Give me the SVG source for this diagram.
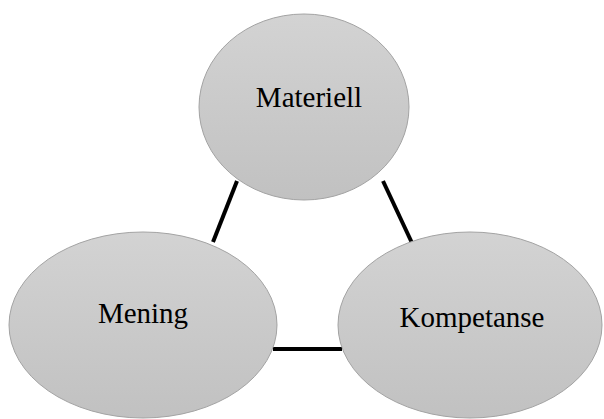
<svg xmlns="http://www.w3.org/2000/svg" width="604" height="419" viewBox="0 0 604 419">
<defs>
<linearGradient id="g" x1="0" y1="0" x2="0" y2="1">
<stop offset="0" stop-color="#d3d3d3"/>
<stop offset="1" stop-color="#c1c1c1"/>
</linearGradient>
<style>
.n{fill:url(#g);stroke:#a3a3a3;stroke-width:1}
.t{font-family:"Liberation Serif","Times New Roman",serif;font-size:29px;fill:#000;text-anchor:middle}
.c{stroke:#000;stroke-width:4;fill:none}
</style>
</defs>
<rect width="604" height="419" fill="#fff"/>
<g id="connectors">
<line class="c" x1="237" y1="181" x2="213" y2="242"/>
<line class="c" x1="383" y1="181" x2="412" y2="243"/>
<line class="c" x1="273" y1="349" x2="342" y2="349"/>
</g>
<g id="materiell">
<ellipse class="n" cx="304" cy="107" rx="105" ry="93"/>
<text class="t" x="309" y="107">Materiell</text>
</g>
<g id="mening">
<ellipse class="n" cx="143" cy="325" rx="134" ry="93"/>
<text class="t" x="143" y="323">Mening</text>
</g>
<g id="kompetanse">
<ellipse class="n" cx="470" cy="325" rx="132" ry="93"/>
<text class="t" x="472" y="327">Kompetanse</text>
</g>
</svg>
